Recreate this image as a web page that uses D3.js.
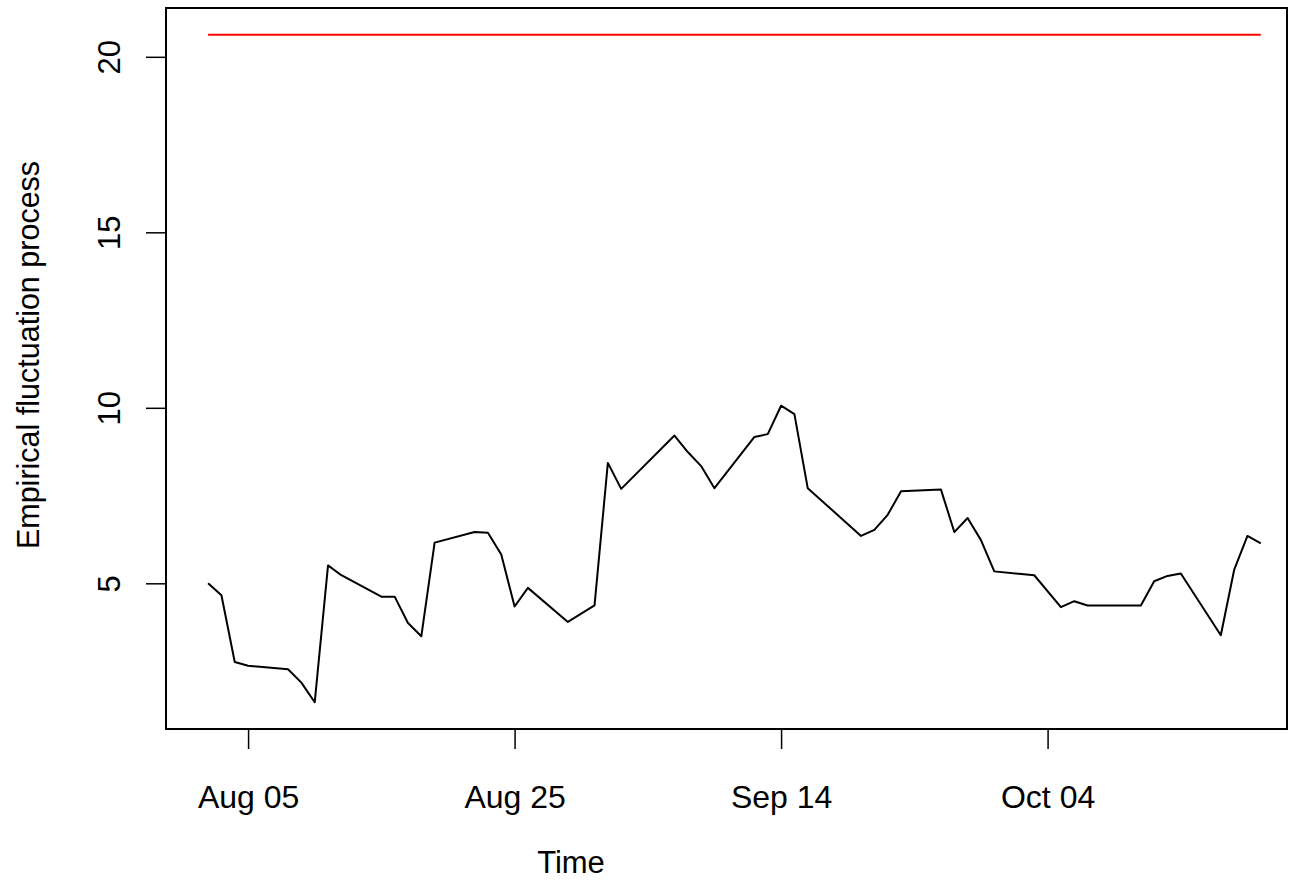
<!DOCTYPE html>
<html>
<head>
<meta charset="utf-8">
<script src="https://cdn.jsdelivr.net/npm/d3@7"></script>
<style>
  body { margin: 0; background: #fff; }
  svg text { font-family: "Liberation Sans", Arial, sans-serif; fill: #000; }
</style>
</head>
<body>
<div id="chart"></div>
<script>
// empirical fluctuation process (business days, 2011)
let dates = ["2011-08-02", "2011-08-03", "2011-08-04", "2011-08-05", "2011-08-08", "2011-08-09",
    "2011-08-10", "2011-08-11", "2011-08-12", "2011-08-15", "2011-08-16", "2011-08-17",
    "2011-08-18", "2011-08-19", "2011-08-22", "2011-08-23", "2011-08-24", "2011-08-25",
    "2011-08-26", "2011-08-29", "2011-08-31", "2011-09-01", "2011-09-02", "2011-09-06",
    "2011-09-07", "2011-09-08", "2011-09-09", "2011-09-12", "2011-09-13", "2011-09-14",
    "2011-09-15", "2011-09-16", "2011-09-20", "2011-09-21", "2011-09-22", "2011-09-23",
    "2011-09-26", "2011-09-27", "2011-09-28", "2011-09-29", "2011-09-30", "2011-10-03",
    "2011-10-05", "2011-10-06", "2011-10-07", "2011-10-11", "2011-10-12", "2011-10-13",
    "2011-10-14", "2011-10-17", "2011-10-18", "2011-10-19", "2011-10-20"];

let values = [5.00, 4.66, 2.76, 2.65, 2.55, 2.17,
    1.61, 5.51, 5.23, 4.62, 4.62, 3.87,
    3.49, 6.16, 6.46, 6.44, 5.82, 4.34,
    4.87, 3.90, 4.37, 8.43, 7.69, 9.21,
    8.74, 8.34, 7.71, 9.17, 9.25, 10.06,
    9.82, 7.71, 6.35, 6.52, 6.95, 7.62,
    7.67, 6.46, 6.86, 6.23, 5.34, 5.23,
    4.32, 4.49, 4.37, 4.37, 5.06, 5.21,
    5.28, 3.52, 5.38, 6.35, 6.14];

let boundary = 20.63;

let xTicks = ["2011-08-05", "2011-08-25", "2011-09-14", "2011-10-04"];
let yTicks = [5, 10, 15, 20];

let width = 1289, height = 889;
let margin = {left: 166, top: 8, right: 2, bottom: 160};

let parse = d3.timeParse("%Y-%m-%d");
let data = dates.map(function(d, i) { return {date: parse(d), value: values[i]} });

let svg = d3.select("#chart")
    .append("svg")
    .attr("width", width)
    .attr("height", height);

// R style axis extension: 4% each side
let t0 = data[0].date, t1 = data[data.length - 1].date;
let span = t1 - t0;
let pxPerDay = 13.325;
let x = d3.scaleTime()
    .domain([new Date(+t0 - 0.04 * span), new Date(+t1 + 0.04 * span)])
    .range([margin.left, margin.left + 1.08 * (span / 864e5) * pxPerDay]);

let yMin = d3.min(values), yMax = boundary;
let yr = yMax - yMin;
let y = d3.scaleLinear()
    .domain([yMin - 0.04 * yr, yMax + 0.04 * yr])
    .range([height - margin.bottom, margin.top]);

let plotRight = width - margin.right;
let plotBottom = height - margin.bottom;

// data line
let line = d3.line()
    .x(function(d) { return x(d.date) })
    .y(function(d) { return y(d.value) });

svg.append("path")
    .datum(data)
    .attr("fill", "none")
    .attr("stroke", "#000")
    .attr("stroke-width", 2)
    .attr("stroke-linejoin", "round")
    .attr("d", line);

// boundary
svg.append("line")
    .attr("x1", x(t0))
    .attr("x2", x(t1))
    .attr("y1", y(boundary))
    .attr("y2", y(boundary))
    .attr("stroke", "#ff0000")
    .attr("stroke-width", 2);

// box
svg.append("rect")
    .attr("x", margin.left)
    .attr("y", margin.top)
    .attr("width", plotRight - margin.left)
    .attr("height", plotBottom - margin.top)
    .attr("fill", "none")
    .attr("stroke", "#000")
    .attr("stroke-width", 2);

// x axis
let fmt = d3.timeFormat("%b %d");
let xAxis = svg.append("g")
    .attr("transform", `translate(0, ${plotBottom})`)
    .call(d3.axisBottom(x).tickValues(xTicks.map(parse)).tickFormat(fmt).tickSize(20).tickSizeOuter(0));
xAxis.select(".domain").remove();
xAxis.selectAll(".tick line").attr("stroke", "#000").attr("stroke-width", 1.5);
xAxis.selectAll(".tick text")
    .attr("y", 79)
    .attr("dy", 0)
    .style("font-size", "32px")
    .style("font-family", "Liberation Sans, Arial, sans-serif");

// y axis
let yAxis = svg.append("g")
    .attr("transform", `translate(${margin.left}, 0)`)
    .call(d3.axisLeft(y).tickValues(yTicks).tickSize(20).tickSizeOuter(0));
yAxis.select(".domain").remove();
yAxis.selectAll(".tick line").attr("stroke", "#000").attr("stroke-width", 1.5);
yAxis.selectAll(".tick text")
    .attr("transform", "rotate(-90)")
    .attr("x", 0)
    .attr("y", -46)
    .attr("dy", 0)
    .style("text-anchor", "middle")
    .style("font-size", "31px")
    .style("font-family", "Liberation Sans, Arial, sans-serif");

// axis titles
svg.append("text")
    .attr("x", 571)
    .attr("y", 873)
    .style("text-anchor", "middle")
    .style("font-size", "31px")
    .text("Time");

svg.append("text")
    .attr("transform", "translate(39, 355) rotate(-90)")
    .style("text-anchor", "middle")
    .style("font-size", "30.5px")
    .text("Empirical fluctuation process");
</script>
</body>
</html>
